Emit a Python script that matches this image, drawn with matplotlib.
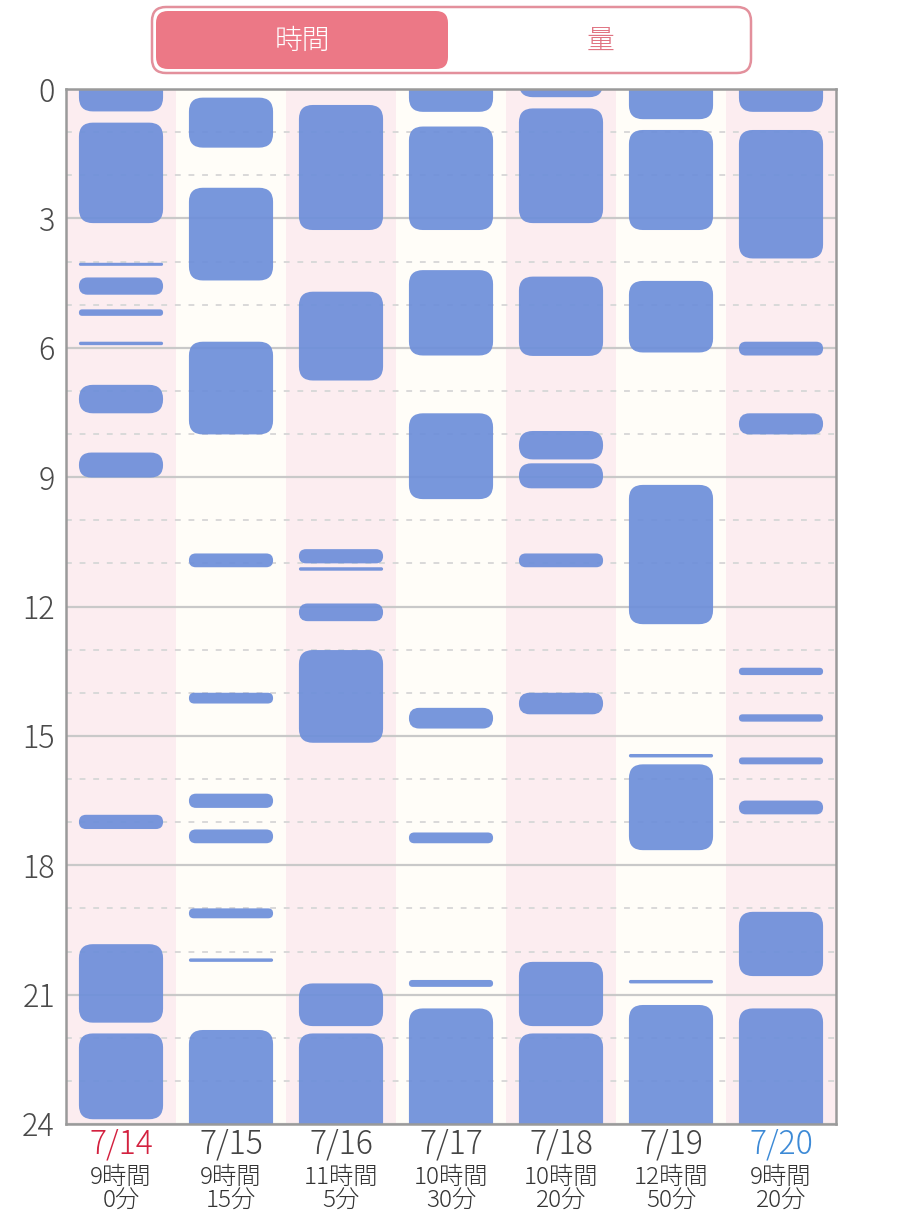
import matplotlib
matplotlib.use("Agg")
import matplotlib.pyplot as plt
from matplotlib.patches import FancyBboxPatch

plt.rcParams['font.family'] = ['Noto Sans CJK JP', 'DejaVu Sans']
plt.rcParams['font.weight'] = 'light'

# ---------------- data ----------------
days = ['7/14', '7/15', '7/16', '7/17', '7/18', '7/19', '7/20']
day_colors = ['#d3213f', '#444444', '#444444', '#444444', '#444444', '#444444', '#3d8ad6']
total_hours = [9, 9, 11, 10, 10, 12, 9]
total_minutes = [0, 15, 5, 30, 20, 50, 20]

# sleep segments per day: (start hour, end hour)
sleep_0714 = [(0.0, 0.52), (0.78, 3.11), (4.03, 4.10), (4.37, 4.77), (5.11, 5.26),
              (5.86, 5.94), (6.86, 7.52), (8.43, 9.01), (16.83, 17.16),
              (19.83, 21.65), (21.90, 23.89)]
sleep_0715 = [(0.20, 1.36), (2.29, 4.44), (5.86, 8.01), (10.77, 11.09), (14.00, 14.25),
              (16.34, 16.67), (17.17, 17.49), (19.00, 19.23), (20.16, 20.24),
              (21.82, 24.0)]
sleep_0716 = [(0.37, 3.27), (4.70, 6.76), (10.67, 11.00), (11.09, 11.17), (11.93, 12.34),
              (13.01, 15.16), (20.74, 21.73), (21.90, 24.0)]
sleep_0717 = [(0.0, 0.53), (0.87, 3.27), (4.20, 6.18), (7.52, 9.51), (14.35, 14.83),
              (17.24, 17.49), (20.66, 20.82), (21.32, 24.0)]
sleep_0718 = [(0.0, 0.19), (0.45, 3.11), (4.35, 6.19), (7.93, 8.59), (8.68, 9.26),
              (10.77, 11.09), (14.00, 14.50), (20.24, 21.73), (21.90, 24.0)]
sleep_0719 = [(0.0, 0.70), (0.95, 3.27), (4.45, 6.11), (9.18, 12.41), (15.42, 15.50),
              (15.66, 17.65), (20.66, 20.74), (21.24, 24.0)]
sleep_0720 = [(0.0, 0.53), (0.95, 3.93), (5.86, 6.18), (7.52, 8.01), (13.42, 13.59),
              (14.50, 14.67), (15.50, 15.66), (16.50, 16.82), (19.08, 20.57),
              (21.32, 24.0)]
sleep_segments = [sleep_0714, sleep_0715, sleep_0716, sleep_0717,
                  sleep_0718, sleep_0719, sleep_0720]

major_hours = list(range(0, 25, 3))
minor_hours = [h for h in range(0, 25) if h % 3 != 0]

# ---------------- style ----------------
W_PX, H_PX, DPI = 900, 1220, 100
AX_L, AX_R, AX_T, AX_B = 66, 836, 89, 1124
BAR_COLOR = '#6e8fda'
PINK_BG = '#fcedf0'
CREAM_BG = '#fffdf8'
BAR_W = 0.765
RADIUS_PX = 14

fig = plt.figure(figsize=(W_PX / DPI, H_PX / DPI), dpi=DPI)
fig.patch.set_facecolor('white')
ax = fig.add_axes([AX_L / W_PX, 1 - AX_B / H_PX, (AX_R - AX_L) / W_PX, (AX_B - AX_T) / H_PX])

n = len(days)
ax.set_xlim(-0.5, n - 0.5)
ax.set_ylim(24, 0)

x_per_px = n / (AX_R - AX_L)
y_per_px = 24 / (AX_B - AX_T)
ASPECT = y_per_px / x_per_px
RADIUS_X = RADIUS_PX * x_per_px

# column backgrounds
for i in range(n):
    ax.axvspan(i - 0.5, i + 0.5, color=PINK_BG if i % 2 == 0 else CREAM_BG, zorder=0.1, lw=0)

# grid
ax.set_yticks(major_hours)
ax.set_yticks(minor_hours, minor=True)
ax.grid(axis='y', which='major', color='#c9c9c9', lw=1.6, zorder=0.5)
ax.grid(axis='y', which='minor', color='#d9d9d9', lw=1.4, ls=(0, (3, 4)), zorder=0.5)
ax.set_axisbelow(True)
ax.tick_params(axis='y', which='both', length=0, pad=8, labelsize=22, labelcolor='#4a4a4a')
ax.set_yticklabels([str(h) for h in major_hours])

# bars
EXT = 1.0
for i, segs in enumerate(sleep_segments):
    for start, end in segs:
        y0 = start - EXT if start <= 0 else start
        y1 = end + EXT if end >= 24 else end
        h = y1 - y0
        r = min(RADIUS_X, h / ASPECT / 2)
        box = FancyBboxPatch((i - BAR_W / 2, y0), BAR_W, h,
                             boxstyle=f"round,pad=0,rounding_size={r}",
                             mutation_aspect=ASPECT, fc=BAR_COLOR, ec='none',
                             alpha=0.93, zorder=2)
        ax.add_patch(box)

# spines
for s in ax.spines.values():
    s.set_color('#9a9a9a')
    s.set_linewidth(1.8)
    s.set_zorder(3)

# x labels
ax.set_xticks(range(n))
ax.set_xticklabels([])
ax.tick_params(axis='x', length=0)
for i in range(n):
    ax.annotate(days[i], xy=(i, 0), xycoords=('data', 'axes fraction'),
                xytext=(0, -14.5), textcoords='offset points', ha='center', va='center',
                fontsize=23, color=day_colors[i])
    ax.annotate(f"{total_hours[i]}時間\n{total_minutes[i]}分", xy=(i, 0),
                xycoords=('data', 'axes fraction'),
                xytext=(0, -47), textcoords='offset points', ha='center', va='center',
                fontsize=17.5, color='#333333', linespacing=0.92, multialignment='center')

# top toggle (pixel space overlay)
ov = fig.add_axes([0, 0, 1, 1])
ov.set_xlim(0, W_PX)
ov.set_ylim(H_PX, 0)
ov.axis('off')
ov.add_patch(FancyBboxPatch((152, 7), 599, 66, boxstyle="round,pad=0,rounding_size=14",
                            fc='white', ec='#e3909c', lw=1.8))
ov.add_patch(FancyBboxPatch((156, 11), 292, 58, boxstyle="round,pad=0,rounding_size=12",
                            fc='#ec7886', ec='none'))
ov.text(302, 41, '時間', ha='center', va='center', fontsize=20, color='white')
ov.text(600, 41, '量', ha='center', va='center', fontsize=20, color='#e07382')

fig.savefig('out.png', dpi=DPI)
